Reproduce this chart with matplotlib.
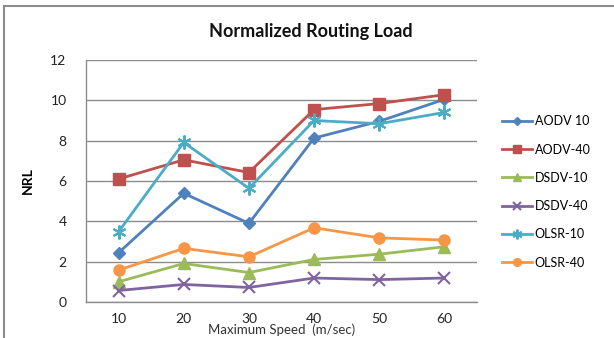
import numpy as np
import matplotlib.pyplot as plt
from matplotlib.patches import Rectangle

### Data
speeds = ['10', '20', '30', '40', '50', '60']
aodv_10 = [2.44, 5.39, 3.90, 8.13, 8.96, 10.05]
aodv_40 = [6.10, 7.05, 6.42, 9.54, 9.84, 10.28]
dsdv_10 = [1.00, 1.91, 1.46, 2.11, 2.37, 2.74]
dsdv_40 = [0.57, 0.87, 0.72, 1.19, 1.11, 1.19]
olsr_10 = [3.48, 7.91, 5.64, 9.00, 8.84, 9.40]
olsr_40 = [1.58, 2.66, 2.24, 3.68, 3.18, 3.07]

series = [
    ('AODV 10', aodv_10, '#4F81BD', 'D', 6),
    ('AODV-40', aodv_40, '#C0504D', 's', 8),
    ('DSDV-10', dsdv_10, '#9BBB59', '^', 8),
    ('DSDV-40', dsdv_40, '#8064A2', 'x', 8),
    ('OLSR-10', olsr_10, '#4BACC6', (6, 2, 0), 10),
    ('OLSR-40', olsr_40, '#F79646', 'o', 8),
]

plt.rcParams['font.family'] = ['Lato', 'DejaVu Sans']

### Plot
fig = plt.figure(figsize=(6.14, 3.38), dpi=100)
ax = fig.add_axes([0.140, 0.1065, 0.637, 0.716])

x = np.arange(len(speeds))
for name, vals, col, mk, ms in series:
    ax.plot(x, vals, color=col, lw=2, marker=mk, markersize=ms,
            markeredgewidth=1.5 if mk in ('x', (6, 2, 0)) else 1,
            markeredgecolor=col, label=name)

ax.set_xlim(-0.5, len(speeds) - 0.5)
ax.set_ylim(0, 12)
ax.set_xticks(x)
ax.set_xticklabels(speeds)
ax.set_yticks(np.arange(0, 13, 2))
ax.tick_params(axis='both', length=0, labelsize=10, colors='#222222')
ax.tick_params(axis='y', pad=14)
ax.tick_params(axis='x', pad=8)

ax.grid(axis='y', color='#8c8c8c', lw=1)
ax.set_axisbelow(True)
for s in ('top', 'right'):
    ax.spines[s].set_visible(False)
for s in ('left', 'bottom'):
    ax.spines[s].set_color('#8c8c8c')
    ax.spines[s].set_linewidth(1)

ax.set_ylabel('NRL', fontsize=10, fontweight='bold', labelpad=12)
ax.set_xlabel('Maximum Speed  (m/sec)', fontsize=9.5, color='#333333', labelpad=-1)

fig.text(0.5065, 0.908, 'Normalized Routing Load', ha='center', va='center',
         fontsize=13, fontweight='bold', color='#111111')

ax.legend(loc='center left', bbox_to_anchor=(1.035, 0.455), frameon=False,
          fontsize=9, handlelength=2.4, handletextpad=0.2, labelspacing=1.3,
          markerscale=0.7)

# chart border
fig.patches.append(Rectangle((4 / 614, -0.05), 1.0, 0.05 + (338 - 6) / 338,
                             transform=fig.transFigure, fill=False,
                             edgecolor='#8c8c8c', lw=1.5))

plt.savefig('out.png', dpi=100)
